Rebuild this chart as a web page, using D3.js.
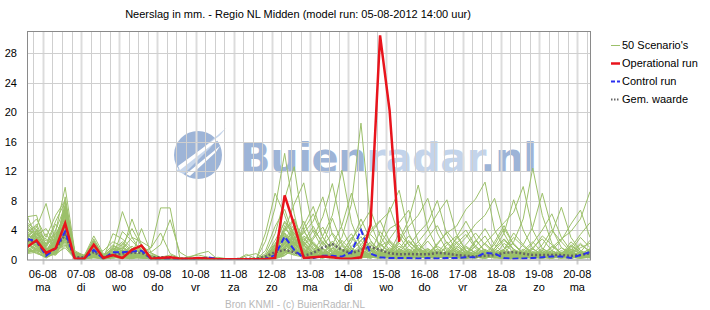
<!DOCTYPE html>
<html>
<head>
<meta charset="utf-8">
<script src="https://cdn.jsdelivr.net/npm/d3@7/dist/d3.min.js"></script>
<style>
body { margin: 0; background: #fff; }
svg { display: block; font-family: Arial, "Liberation Sans", sans-serif; }
</style>
</head>
<body>
<div id="chart"></div>
<script>
// forecast steps: every 6 hours from 06-08 02:00
var startTime = Date.UTC(2012, 7, 6, 2);
var stepHours = 6;

var dayLabels = ["06-08", "07-08", "08-08", "09-08", "10-08", "11-08", "12-08", "13-08",
	"14-08", "15-08", "16-08", "17-08", "18-08", "19-08", "20-08"];
var weekdayLabels = ["ma", "di", "wo", "do", "vr", "za", "zo", "ma", "di", "wo", "do", "vr", "za", "zo", "ma"];
var yTicks = [0, 4, 8, 12, 16, 20, 24, 28];
var legendLabels = ["50 Scenario's", "Operational run", "Control run", "Gem. waarde"];

var operational = [1.7, 2.6, 0.9, 1.5, 4.9, 0.1, 0.1, 2.0, 0.2, 0.6,
	0.2, 1.3, 1.9, 0.1, 0.2, 0.3, 0.1, 0.1, 0.2, 0.1,
	0.05, 0.05, 0.05, 0.05, 0.05, 0.05, 0.2, 8.7, 4.7, 0.2,
	0.3, 0.4, 0.3, 0.1, 0.1, 0.3, 4.7, 30.4, 20.2, 2.4];

var control = [2.8, 2.5, 0.5, 1.5, 3.8, 0.1, 0.1, 1.3, 0.1, 1.0,
	1.0, 1.1, 1.2, 0.1, 0.1, 0.1, 0.05, 0.1, 0.1, 0.3,
	0.05, 0.05, 0.05, 0.05, 0.05, 0.1, 0.6, 3.1, 1.3, 0.2,
	0.2, 0.5, 0.5, 0.4, 1.0, 4.0, 0.8, 0.3, 0.2, 0.2,
	0.2, 0.15, 0.2, 0.15, 0.2, 0.2, 0.3, 0.3, 0.9, 0.8,
	0.2, 0.1, 0.15, 0.2, 0.3, 0.4, 0.4, 0.2, 0.6, 1.0];

var meanValues = [2.6, 2.4, 0.8, 1.5, 3.4, 0.3, 0.3, 1.0, 0.3, 0.6,
	0.8, 0.9, 0.9, 0.3, 0.3, 0.3, 0.1, 0.1, 0.1, 0.2,
	0.05, 0.05, 0.05, 0.1, 0.1, 0.4, 1.0, 1.3, 1.0, 0.5,
	0.9, 1.6, 2.1, 1.3, 0.85, 1.3, 1.7, 1.3, 0.85, 0.7,
	0.75, 0.7, 0.7, 0.9, 0.8, 0.6, 0.5, 0.4, 0.5, 0.6,
	0.9, 1.0, 0.8, 0.6, 0.6, 0.6, 0.6, 0.5, 0.6, 0.85];

// 50 ensemble members, 60 steps each (groups of 10 split by |)
var scenarioRows = [
"2.0 3.1 0.6 1.8 4.2 0.3 0.1 1.2 0.2 0.8 | 1.0 0.9 1.4 0.2 0.1 0 0 0 0 0.2 | 0 0 0 0 0 0.4 1.8 3.2 2.1 0.6 | 0.3 0.5 1.2 0.8 0.4 1.5 2.2 0.9 0.4 0.2 | 0.1 0.3 0.8 1.4 0.6 0.2 0.1 0.4 1.2 0.8 | 0.3 0.2 0.6 1.1 0.5 0.2 0.4 0.9 0.6 1.2",
"3.5 2.2 1.0 2.6 6.8 0.5 0.2 0.8 0.1 0.4 | 0.5 0.8 0.6 0.3 0 0 0 0 0 0 | 0 0 0 0 0 1.2 4.5 6.8 3.0 1.2 | 0.6 2.4 1.0 0.5 1.8 3.1 1.2 0.5 0.2 0.1 | 0.4 1.1 2.5 0.9 0.3 0.2 0.6 1.8 3.2 1.0 | 0.2 0.1 0.3 0.6 1.5 0.8 0.3 0.2 0.5 0.9",
"1.2 4.1 2.5 3.5 5.5 0.2 0 1.6 0.3 0.6 | 0.8 0.4 1.1 0.5 0.2 0 0 0 0 0 | 0 0 0 0.7 0.1 0.3 2.0 4.1 5.5 2.3 | 1.0 0.4 0.6 2.0 3.5 1.2 0.6 2.3 7.1 3.2 | 1.1 0.5 0.3 0.6 1.0 2.4 1.2 0.4 0.2 0.6 | 1.4 2.2 0.8 0.3 0.2 0.5 1.6 0.9 0.3 0.4",
"4.5 3.0 0.4 1.2 3.8 0.1 0.1 0.5 0 0.3 | 0.6 1.5 0.9 0.2 0 0 0 0 0 0 | 0 0 0 0 0 2.5 7.0 14.4 6.2 1.0 | 0.4 0.2 1.5 0.6 0.3 0.8 1.4 0.6 0.2 0.9 | 2.6 1.2 0.4 0.2 0.8 1.5 0.6 0.3 0.2 0.4 | 0.8 0.3 0.2 0.6 1.0 0.4 0.2 0.8 2.0 1.1",
"2.8 1.6 0.9 2.0 7.5 0.6 0.3 2.4 0.5 1.2 | 0.3 0.2 0.4 0.1 0 0 0 0 0 0 | 0 0 0 0 0 0 0.8 2.4 1.6 0.5 | 0.2 0.9 0.4 1.8 0.6 0.3 0.8 0.4 0.6 1.4 | 0.9 0.4 0.2 0.8 1.6 0.6 0.3 0.9 2.2 1.0 | 0.8 2.4 5.5 12.4 6.0 2.2 0.8 0.4 0.3 0.6",
"1.5 2.4 1.8 4.8 3.2 0.4 0.2 0.6 0.2 3.5 | 2.8 1.5 0.9 1.6 7.0 7.0 0.3 0 0 0 | 0 0 0 0 0 0.2 0.5 1.2 2.8 1.0 | 0.5 0.3 0.8 2.6 1.2 0.4 0.2 0.6 1.0 0.4 | 0.3 0.8 1.5 0.6 0.2 0.5 1.8 0.9 0.4 0.2 | 0.1 0.4 0.9 0.5 0.3 0.2 0.6 1.4 0.8 0.5",
"0.9 1.3 0.5 2.2 4.0 0.3 0.2 1.0 0.4 1.1 | 1.6 0.6 0.3 0.2 0 0 0 0 0 0 | 0 0 0 0 0 0.6 2.2 3.6 1.4 0.8 | 2.4 1.0 0.5 0.3 0.8 2.0 3.6 5.2 6.5 9.4 | 3.5 1.2 0.6 0.4 0.3 0.8 1.6 0.9 0.5 0.3 | 0.6 1.2 0.5 0.2 0.4 0.9 0.5 0.3 0.6 1.0",
"5.8 6.0 1.5 1.0 8.5 1.0 0.4 0.8 0.3 0.5 | 0.4 0.3 0.6 0.2 0.1 0 0 0 0 0 | 0 0 0 0 0 0.1 0.4 1.6 3.8 2.4 | 1.2 0.6 0.4 1.0 0.5 0.3 0.6 1.8 2.6 1.4 | 0.6 0.3 0.9 2.0 3.8 2.2 0.8 0.4 0.3 1.2 | 2.6 1.4 0.6 0.3 0.2 0.8 0.4 0.2 0.3 0.8",
"2.2 2.8 0.3 1.5 5.0 0.2 0.1 2.0 0.6 0.2 | 0.3 0.5 2.0 0.8 0.2 0 0 0 0 0 | 0 0 0 0 0 0.8 3.5 8.2 12.6 4.0 | 1.6 0.8 2.5 1.2 0.4 0.2 0.5 0.9 0.4 0.2 | 0.6 1.4 0.8 0.3 0.2 0.4 0.8 2.6 1.2 0.5 | 0.3 0.6 1.2 2.4 0.9 0.4 0.2 0.3 0.6 0.4",
"3.2 1.9 0.7 2.8 6.2 0.4 0.2 0.4 0.1 0.6 | 3.8 2.5 1.2 0.4 0 0 0 0 0 0 | 0 0 0 0 0 0 0.3 1.0 2.2 3.6 | 5.2 8.5 3.4 1.2 0.6 0.4 0.8 0.5 1.6 0.8 | 0.4 0.2 0.6 1.0 0.5 2.2 3.4 1.5 0.6 0.3 | 0.5 0.9 0.4 0.2 0.6 1.8 0.8 0.4 0.2 0.3",
"1.8 3.6 0.5 0.8 2.6 0.2 0.1 0.9 0.2 0.7 | 0.9 1.8 0.8 0.1 0 0 0 0.3 0.8 1.1 | 0 0 0 0 0 0.3 1.4 2.8 1.0 0.4 | 0.8 1.5 0.6 0.3 1.2 0.5 0.3 0.6 1.4 0.7 | 0.5 1.0 0.4 2.2 3.6 4.5 6.8 8.2 10.5 4.0 | 1.6 0.6 0.3 0.2 0.5 1.2 0.6 0.3 0.2 0.4",
"2.5 2.0 1.2 3.2 5.8 0.6 0.4 1.4 0.3 0.9 | 0.7 0.5 0.3 0.2 0 0 0 0 0 0 | 0 0 0 0 0 0.2 0.9 2.0 1.2 0.6 | 0.4 0.8 1.4 3.0 7.5 18.5 5.0 1.6 0.6 0.3 | 0.8 0.4 0.2 0.6 1.0 0.5 0.3 0.8 1.4 0.6 | 0.3 0.6 1.0 0.5 0.3 0.2 0.5 0.8 1.6 2.2",
"4.0 3.4 2.8 1.6 4.8 0.3 0.2 0.5 0.2 1.8 | 1.4 3.0 2.4 1.6 3.6 0.8 0.2 0 0 0 | 0 0 0 0 0 0 0.2 0.8 2.6 5.2 | 2.0 0.6 0.3 0.8 1.6 0.6 0.3 0.4 0.9 1.8 | 1.0 0.4 0.2 0.3 0.8 1.5 0.6 0.3 0.2 0.5 | 1.0 0.5 0.8 1.6 2.8 1.2 0.4 0.2 0.4 0.6",
"1.0 1.4 0.4 1.0 2.2 0.1 0 0.7 0.1 0.3 | 0.2 0.3 0.5 0.2 0 0 0 0 0 0 | 0 0 0 0 0 0.4 1.0 4.6 2.4 0.8 | 0.5 0.3 0.6 1.4 0.8 0.4 2.0 1.1 0.5 0.3 | 0.2 0.6 1.2 0.8 0.4 0.3 0.5 0.9 0.6 1.5 | 2.8 1.4 0.6 0.3 1.2 3.5 7.1 3.0 1.2 0.5",
"3.0 4.4 7.6 2.4 6.0 0.5 0.3 1.8 0.4 0.5 | 0.6 0.4 0.8 0.3 0.1 0 0 0 0 0 | 0 0 0 0 0 0.5 2.6 5.0 3.2 1.4 | 0.6 0.3 0.9 0.5 1.2 2.6 1.0 2.0 4.2 5.0 | 6.7 2.4 0.8 0.4 0.3 0.6 1.0 0.5 0.3 0.8 | 0.4 0.2 0.5 0.9 0.6 0.3 0.2 0.6 1.0 0.7",
"2.6 1.2 0.8 3.8 9.8 1.2 0.5 1.1 0.2 0.4 | 0.5 0.2 0.4 0.1 0 0 0 0 0 0 | 0 0 0 0 0 0.2 1.6 4.0 7.5 10.4 | 3.8 1.4 0.6 0.3 0.5 1.0 0.4 0.2 0.6 1.2 | 0.5 0.3 1.0 0.6 0.4 0.2 0.8 1.8 0.8 0.3 | 0.2 0.5 1.0 0.6 0.3 0.2 0.4 0.6 0.3 0.5",
"1.6 2.6 0.2 0.9 3.0 0.2 0.1 0.3 0.1 0.2 | 0.4 0.6 0.3 0.1 0 0 0 0 0 0 | 0 0 0 0 0 0 0.4 1.2 0.6 2.4 | 4.5 2.0 5.6 2.2 0.8 0.4 0.3 0.9 2.4 1.0 | 0.4 0.2 0.5 0.3 2.0 3.2 1.2 0.5 0.3 0.6 | 1.4 3.6 2.0 0.8 0.4 0.3 0.6 1.2 3.0 1.6",
"3.8 2.6 1.4 1.9 6.6 0.4 0.3 1.5 0.5 1.4 | 0.9 1.1 0.6 0.3 0 0 0 0 0 0 | 0 0 0 0 0 0.1 0.6 2.2 4.4 2.0 | 3.0 5.8 10.3 4.2 1.5 0.6 0.3 0.2 0.5 0.9 | 0.4 2.0 1.0 0.5 0.3 0.6 0.4 0.2 0.5 1.2 | 0.6 0.3 0.2 0.4 0.9 0.5 0.3 2.0 1.0 0.4",
"0.8 1.0 0.3 0.8 1.6 0.1 0 0.4 0 0.8 | 1.2 5.5 2.0 0.4 0 0 0 0 0 0 | 0 0 0 0 0 0 0.2 0.6 1.4 0.5 | 0.2 0.4 0.8 0.3 0.2 0.6 0.3 0.2 0.4 0.3 | 0.2 0.5 0.3 0.2 0.4 0.8 0.4 0.3 0.2 0.4 | 0.3 0.2 0.4 0.6 0.3 0.2 0.3 0.5 0.4 0.3",
"2.4 3.3 4.2 2.0 7.0 0.8 0.4 0.6 0.2 0.5 | 1.2 0.7 0.4 0.2 0 0 0 0 0 0 | 0 0 0 0 0 0.3 1.2 3.0 1.8 0.7 | 0.3 0.6 0.4 0.2 0.8 1.6 3.4 2.0 1.0 2.6 | 5.4 10.1 4.2 1.5 0.6 0.3 0.2 0.5 1.0 0.6 | 0.3 0.2 0.6 1.4 0.7 0.4 0.2 0.3 0.8 1.4",
"2.0 1.5 0.6 1.4 3.4 0.3 0.2 0.9 1.2 2.4 | 1.8 0.8 0.5 1.0 2.0 5.4 1.0 0.2 0 0 | 0 0 0 0 0 0.1 0.3 1.8 3.0 1.2 | 0.4 0.2 0.5 0.9 0.4 0.3 0.8 0.4 0.3 0.6 | 1.2 0.5 0.3 0.8 0.4 0.2 0.6 1.2 0.6 0.3 | 0.5 0.8 0.4 0.2 0.3 0.6 1.0 0.5 0.2 0.3",
"6.0 2.8 1.0 0.6 2.8 0.4 0.2 1.3 0.3 0.6 | 0.3 0.2 0.5 0.4 0.1 0 0 0 0 0 | 0 0 0 0 0 0.2 0.8 2.6 4.8 1.6 | 0.6 1.2 0.5 0.3 0.6 1.0 0.5 0.3 0.8 0.5 | 0.3 0.6 1.4 0.8 0.4 1.6 3.0 4.8 6.0 8.3 | 3.5 1.2 0.6 0.3 0.2 0.6 0.9 0.5 0.3 0.6",
"1.4 0.8 0.4 2.6 5.2 0.2 0.1 0.8 0.2 0.9 | 2.2 0.9 0.4 0.2 0 0 0 0 0 0 | 0 0 0 0 0 3.6 9.0 6.0 2.4 0.8 | 0.4 0.9 2.2 1.0 0.4 0.3 0.5 1.2 0.6 0.3 | 0.6 0.3 0.2 0.9 2.4 1.0 0.4 0.3 0.6 0.4 | 0.2 0.4 0.8 0.5 0.3 0.6 1.2 0.8 0.4 0.3",
"3.4 4.8 2.0 5.2 7.8 0.9 0.5 3.2 0.8 0.4 | 0.3 0.2 0.6 0.3 0 0 0 0 0 0 | 0 0 0 0 0 0.1 0.2 0.9 2.0 4.0 | 6.2 3.0 1.2 0.6 0.3 0.5 0.9 3.8 2.0 0.8 | 0.4 0.3 0.6 1.2 0.6 0.3 0.2 0.4 0.9 2.0 | 4.2 2.0 0.8 0.4 0.2 0.3 0.5 0.9 0.4 0.2",
"1.1 1.8 0.5 1.2 2.4 0.2 0.1 0.6 0.1 0.3 | 0.5 0.3 0.2 0.1 0 0 0 0 0 0 | 0 0 0 0 0 0.4 1.8 3.4 1.2 0.6 | 1.0 0.5 0.3 0.6 1.4 0.8 0.4 0.3 0.5 2.2 | 1.0 0.5 0.3 0.6 1.0 0.5 0.3 0.6 0.4 0.2 | 0.5 1.0 0.6 0.3 0.4 1.2 2.6 4.8 6.7 3.0",
"2.2 2.0 0.9 2.4 4.5 0.5 0.3 1.0 0.4 0.8 | 0.6 0.4 0.3 0.2 0 0 0 0 0 0 | 0 0 0 0 0 0.2 0.7 2.0 4.2 2.0 | 1.0 3.2 6.0 12.1 5.0 1.8 0.8 0.5 0.3 0.6 | 1.4 0.6 0.3 0.2 0.5 1.0 0.6 0.3 0.2 0.4 | 0.8 0.5 0.3 0.6 1.2 0.6 0.3 0.2 0.5 0.9",
"4.2 5.5 3.0 6.0 8.0 1.0 0.6 2.6 0.4 1.6 | 1.2 0.6 0.4 0.2 0 0 0 0 0 0 | 0.3 0.1 0 0.5 0.8 0 0.3 1.4 3.6 2.0 | 0.8 0.4 0.3 0.6 1.0 0.4 0.2 0.6 2.8 4.6 | 2.0 0.8 0.4 0.3 0.8 1.8 1.0 0.4 0.3 0.6 | 1.2 0.6 0.3 0.8 2.0 4.0 2.4 1.0 0.5 0.3",
"1.9 3.8 1.2 0.8 3.6 0.3 0.1 1.9 0.3 0.6 | 0.4 0.3 0.8 0.4 0.1 0 0 0 0 0 | 0 0 0 0 0 0.5 1.2 3.8 5.4 2.0 | 0.6 0.3 0.4 0.9 0.5 0.3 0.6 1.4 0.8 2.4 | 4.5 6.0 8.3 3.6 1.2 0.5 0.3 0.6 1.0 0.5 | 0.3 0.2 0.5 0.9 0.5 0.3 0.6 0.4 0.2 0.3",
"2.7 2.4 0.6 1.7 5.6 0.4 0.2 0.5 0.1 0.3 | 0.2 0.4 0.2 0.1 0 0 0 0 0 0 | 0 0 0 0 0 0 0.1 0.5 1.8 3.2 | 2.2 0.9 0.5 0.3 2.4 5.5 2.6 1.0 0.4 0.3 | 0.6 0.4 0.2 0.5 0.9 0.4 0.2 0.3 0.6 1.4 | 0.8 0.3 0.2 0.4 0.7 0.4 0.3 1.0 2.2 1.0",
"3.6 2.2 0.8 2.2 6.4 0.6 0.3 1.2 0.6 2.0 | 1.1 0.5 0.3 0.2 0 0 0 0 0 0 | 0 0 0 0 0 0.2 0.6 1.6 3.0 1.4 | 0.5 0.3 0.6 1.2 0.6 0.3 0.4 0.8 0.4 0.3 | 0.8 1.6 0.8 0.4 0.3 0.6 1.2 0.6 0.4 1.5 | 3.6 8.1 4.0 1.5 0.6 0.3 0.5 0.9 0.5 0.3",
"1.3 1.1 0.3 1.1 2.0 0.1 0.1 0.2 0.1 0.4 | 0.3 0.2 0.4 0.2 0 0 0 0 0 0 | 0 0 0 0 0 0.3 1.0 2.6 1.2 0.5 | 0.3 0.8 2.0 4.6 9.0 4.2 1.4 0.6 0.3 0.5 | 0.9 0.5 0.3 0.2 0.6 1.2 0.5 0.3 0.8 0.4 | 0.2 0.5 1.2 0.6 0.3 0.2 0.4 0.8 0.5 1.2",
"2.9 1.7 0.5 1.6 4.0 0.3 0.2 1.4 0.4 1.0 | 0.8 0.6 1.6 0.5 0.1 0 0 0 0 0 | 0 0 0 0 0 0.3 1.5 3.0 2.0 0.9 | 0.5 0.3 0.8 0.4 0.2 0.6 1.2 0.5 0.3 0.4 | 0.8 1.4 0.6 0.3 0.2 0.5 0.9 0.4 0.3 0.6 | 1.2 0.5 0.3 0.2 0.6 1.6 2.8 3.8 5.5 9.2",
"5.0 4.0 1.6 4.0 7.2 0.7 0.4 2.8 0.5 0.7 | 0.6 0.5 1.0 0.6 0.2 0 0 0 0 0 | 0 0 0 0 0 0.4 2.0 5.2 3.6 1.8 | 4.0 2.4 0.8 0.4 0.3 0.6 1.6 0.8 0.5 1.0 | 2.4 1.2 0.5 0.3 0.6 3.0 5.2 2.8 1.0 0.4 | 0.3 0.6 1.4 0.8 0.4 0.3 0.6 1.4 0.9 0.5",
"1.7 0.9 0.2 1.3 3.2 0.2 0.1 0.5 0.1 0.2 | 0.4 0.3 0.2 0.1 0 0 0 0 0 0 | 0 0 0 0 0 0.1 0.5 1.6 2.4 1.0 | 0.4 0.2 0.5 1.0 2.8 4.5 6.7 3.2 1.2 0.6 | 0.3 0.2 0.5 0.9 0.4 0.3 0.2 0.5 1.2 0.6 | 0.4 0.2 0.3 0.6 1.0 0.5 0.3 0.2 0.4 0.8",
"3.1 3.2 0.8 3.0 6.5 0.5 0.2 1.7 0.2 0.5 | 2.0 4.2 1.8 0.4 0 0 0 0 0 0 | 0 0 0 0 0 0.2 0.9 2.4 1.6 4.6 | 7.2 3.0 1.0 0.5 0.3 0.6 0.4 0.3 0.9 3.6 | 2.0 0.6 0.3 0.5 1.0 0.6 0.3 0.2 0.5 1.0 | 0.6 0.3 0.6 1.4 3.2 2.0 0.8 0.4 0.3 0.6",
"2.3 2.6 0.4 0.9 2.9 0.3 0.1 0.7 0.2 0.4 | 0.3 0.2 0.4 0.1 0 0 0 0 0 0 | 0 0 0 0 0 0.2 0.6 1.8 2.6 1.1 | 0.5 0.3 0.2 0.6 1.2 0.5 0.3 0.6 1.0 0.5 | 0.3 0.6 1.2 0.6 0.3 0.2 0.5 1.0 2.2 3.6 | 5.0 6.4 9.9 4.0 1.5 0.6 0.3 0.5 0.9 0.4",
"0.9 1.5 0.6 1.9 4.4 0.4 0.2 1.1 0.3 0.9 | 1.6 0.9 0.5 0.3 0 0 0 0 0 0 | 0 0 0 0 0 0.1 0.4 1.4 3.4 1.8 | 0.8 0.4 0.3 0.5 0.9 0.4 0.2 0.5 1.2 0.6 | 1.8 3.6 5.0 8.0 3.4 1.2 0.5 0.3 0.6 1.0 | 0.5 0.3 0.2 0.4 0.8 0.4 0.2 0.3 0.6 0.4",
"4.8 3.5 2.2 2.8 5.0 0.6 0.3 0.9 0.2 0.3 | 0.2 0.6 4.2 0.9 0.3 0.6 0.2 0 0 0 | 0 0 0 0 0 0.3 1.0 2.2 1.0 3.0 | 1.4 0.6 0.3 0.2 0.6 1.0 0.5 0.3 0.6 1.4 | 3.2 1.6 0.6 0.3 0.2 0.4 0.8 0.5 0.3 2.4 | 4.6 2.0 0.8 0.4 0.6 1.0 0.5 0.3 0.2 0.6",
"2.5 1.8 0.7 2.0 4.9 0.4 0.2 1.3 0.3 0.7 | 0.9 0.7 0.5 0.2 0 0 0 0 0 0 | 0 0 0 0 0 0.5 1.4 3.2 2.2 0.9 | 0.6 1.4 0.6 0.3 0.5 1.0 0.4 0.3 0.6 0.4 | 0.3 0.5 0.9 0.4 0.3 0.2 0.5 0.9 0.5 0.8 | 1.2 0.6 2.0 4.4 9.0 4.2 1.6 0.6 0.3 0.5",
"1.5 2.9 1.4 2.3 3.9 0.3 0.1 0.3 0.1 0.6 | 1.0 0.4 0.2 0.1 0 0 0 0 0 0 | 0 0 0 0 0 0 0.2 0.8 1.6 0.6 | 2.8 4.4 1.8 0.6 0.3 0.2 0.5 0.9 0.4 0.2 | 0.4 0.8 0.4 0.2 1.2 2.8 4.0 1.8 0.6 0.3 | 0.2 0.4 0.8 0.4 0.2 0.3 0.6 1.6 3.4 5.0",
"3.3 2.5 1.1 1.4 3.5 0.3 0.2 1.6 0.4 1.3 | 2.4 1.2 0.6 0.3 0.1 0 0 0 0 0 | 0 0 0 0 0 0.2 0.8 2.2 1.4 0.6 | 0.3 0.5 0.8 0.4 1.2 2.6 4.0 5.3 2.4 0.9 | 0.4 0.3 0.6 1.0 0.5 0.3 0.2 0.6 0.4 0.3 | 0.6 1.0 0.5 0.3 0.2 0.5 0.9 0.4 0.6 1.5",
"2.1 2.3 0.3 1.1 2.7 0.2 0.1 0.6 0.2 0.5 | 0.7 0.5 0.9 0.3 0 0 0 0 0 0 | 0 0 0 0 0 0.4 1.6 4.2 2.8 1.2 | 0.6 0.3 0.2 0.5 0.9 0.6 0.3 0.2 0.6 1.0 | 0.5 0.3 0.8 1.8 1.0 0.5 0.3 0.4 0.8 0.5 | 2.2 1.0 0.5 0.3 0.6 1.2 0.6 2.4 1.2 0.6",
"3.9 4.5 1.3 2.5 5.3 0.5 0.3 2.2 0.6 1.5 | 0.9 0.6 0.4 0.2 0 0 0 0 0 0 | 0 0 0 0 0 0.2 0.6 1.4 2.0 3.8 | 2.0 0.8 0.4 0.3 0.6 1.2 2.4 1.2 0.5 0.3 | 0.6 1.2 3.0 4.6 2.2 0.9 0.4 0.3 0.5 0.9 | 0.5 0.3 0.6 1.0 0.5 0.3 0.8 1.8 1.0 0.5",
"1.0 1.2 0.8 0.6 1.9 0.2 0.1 0.4 0.1 1.5 | 6.5 3.0 1.0 0.2 0 0 0 0 0 0 | 0 0 0 0 0 0.1 0.3 1.0 0.6 0.3 | 0.2 0.5 0.3 0.2 0.4 0.8 0.4 0.2 0.3 0.6 | 0.3 0.2 0.4 0.3 0.6 0.3 0.2 0.4 0.3 0.5 | 0.3 0.2 0.5 0.3 0.2 0.4 0.3 0.2 0.5 0.3",
"2.6 3.0 1.9 3.4 6.0 0.6 0.3 1.0 0.3 0.8 | 1.3 0.8 0.5 0.2 0 0 0 0.4 0.6 0.3 | 0 0 0 0 0 0.3 1.1 3.6 2.2 1.0 | 0.5 0.3 0.6 0.3 0.2 0.5 0.9 0.4 0.3 0.5 | 1.0 2.4 4.0 6.2 8.1 3.5 1.2 0.5 0.3 0.6 | 1.0 0.5 0.3 0.2 0.4 0.8 0.4 0.3 0.6 0.9",
"4.3 2.7 0.5 2.1 4.6 0.4 0.2 2.5 0.5 0.6 | 0.5 0.9 1.3 0.4 0.1 0 0 0 0 0 | 0 0 0 0 0 0 0.2 0.6 1.4 2.8 | 1.4 0.6 0.3 0.8 3.0 1.4 0.6 0.3 0.2 0.6 | 1.4 0.7 0.3 0.2 0.4 0.8 2.0 3.6 2.0 0.8 | 0.4 0.2 0.3 0.6 1.2 0.6 0.3 0.5 1.0 2.6",
"1.2 2.1 3.5 1.3 3.3 0.3 0.2 0.8 0.2 0.4 | 0.6 0.4 0.3 0.1 0 0 0 0 0 0 | 0 0 0 0 0 0.2 0.5 1.2 0.8 0.4 | 0.3 0.6 1.6 0.8 0.4 0.3 0.5 0.3 0.6 1.2 | 0.6 0.3 0.2 0.4 0.8 0.5 0.3 0.2 0.4 0.6 | 1.4 3.0 1.8 0.8 0.4 0.3 0.6 1.0 0.5 0.3",
"2.4 3.9 0.9 2.7 7.0 0.7 0.4 1.9 0.3 0.5 | 0.4 0.3 0.5 0.3 0.1 0 0 0 0 0 | 0 0 0 0 0 0.3 1.3 2.8 1.6 0.7 | 0.4 0.6 0.3 0.2 0.5 1.0 0.5 0.3 0.2 0.4 | 0.6 0.3 0.5 1.0 0.6 0.3 0.2 0.4 0.8 0.5 | 0.6 1.2 0.8 2.2 4.0 6.2 3.0 1.2 0.5 0.3",
"1.9 1.4 0.4 1.5 3.7 0.3 0.1 0.6 0.2 0.3 | 0.2 0.4 0.6 0.2 0 0 0 0 0 0 | 0 0 0 0 0 0.1 0.4 1.0 2.0 0.9 | 0.6 1.8 3.6 2.0 0.8 0.4 0.3 0.6 1.0 0.5 | 0.3 0.2 0.5 0.3 0.6 1.2 0.6 2.4 4.2 2.0 | 0.8 0.4 0.3 0.5 0.9 0.5 0.3 0.2 0.4 0.8",
"3.0 2.0 0.6 1.0 3.1 0.2 0.1 0.5 0.1 0.3 | 0.2 0.1 0.3 0.1 0 0 0 0 0 0 | 0 0 0 0 0 0.3 0.8 2.0 1.0 0.4 | 0.2 0.4 0.6 0.3 0.2 0.4 0.9 2.2 1.0 0.5 | 0.3 0.6 0.3 0.2 0.5 0.3 0.2 0.5 0.9 0.4 | 0.3 0.6 1.0 0.5 0.3 0.2 0.5 0.3 0.2 0.4"
];

var scenarios = scenarioRows.map(function(row) {
	return row.replace(/\|/g, " ").trim().split(/\s+/).map(Number);
});

var W = 710, H = 310;
var plot = { left: 27, top: 31, right: 590, bottom: 259.5 };

var svg = d3.select("#chart")
	.append("svg")
	.attr("width", W)
	.attr("height", H);

var timeAt = function(i) {
	return new Date(startTime + i * stepHours * 3600 * 1000);
};

var x = d3.scaleUtc()
	.domain([timeAt(0), timeAt(59)])
	.range([plot.left, plot.right]);

var y = d3.scaleLinear()
	.domain([0, 31])
	.range([plot.bottom, plot.top]);

// title
svg.append("text")
	.attr("x", 298)
	.attr("y", 18)
	.attr("text-anchor", "middle")
	.attr("font-size", "11px")
	.attr("fill", "#000")
	.text("Neerslag in mm. - Regio NL Midden (model run: 05-08-2012 14:00 uur)");

// watermark logo, sits under the grid
var wm = svg.append("g").attr("class", "watermark");
wm.append("circle")
	.attr("cx", 198).attr("cy", 155).attr("r", 24)
	.attr("fill", "#9db4d7");
wm.append("path")
	.attr("d", "M176,171 L226,128 L210,148 L184,174 Z")
	.attr("fill", "#c6d6ec");
wm.append("path")
	.attr("d", "M178,166 L222,134 L218,140 L180,170 Z")
	.attr("fill", "#fff");
wm.append("path")
	.attr("d", "M186,174 L220,146 L216,152 L190,176 Z")
	.attr("fill", "#fff");

var wmText = wm.append("text")
	.attr("x", 240)
	.attr("y", 172)
	.attr("font-family", "'DejaVu Sans', Verdana, sans-serif")
	.attr("font-weight", "bold")
	.attr("font-size", "40px")
	.attr("textLength", 297)
	.attr("lengthAdjust", "spacing");
wmText.append("tspan").attr("fill", "#9db4d7").text("Buien");
wmText.append("tspan").attr("fill", "#c3d4eb").text("radar");
wmText.append("tspan").attr("fill", "#9db4d7").text(".nl");

// vertical grid, every 6 hours; noon lines wider
var gridTimes = d3.utcHour.every(6).range(timeAt(0), new Date(+timeAt(59) + 1));
svg.append("g")
	.selectAll("line")
	.data(gridTimes)
	.enter()
	.append("line")
	.attr("x1", function(d) { return Math.round(x(d)) + 0.5; })
	.attr("x2", function(d) { return Math.round(x(d)) + 0.5; })
	.attr("y1", plot.top)
	.attr("y2", plot.bottom)
	.attr("stroke", function(d) { return d.getUTCHours() == 12 ? "#dcdcdc" : "#cfcfcf"; })
	.attr("stroke-width", function(d) { return d.getUTCHours() == 12 ? 2 : 1; });

// horizontal grid
svg.append("g")
	.selectAll("line")
	.data(yTicks.slice(1))
	.enter()
	.append("line")
	.attr("x1", plot.left)
	.attr("x2", plot.right)
	.attr("y1", function(d) { return Math.round(y(d)) + 0.5; })
	.attr("y2", function(d) { return Math.round(y(d)) + 0.5; })
	.attr("stroke", "#cfcfcf");

// y axis labels
svg.append("g")
	.selectAll("text")
	.data(yTicks)
	.enter()
	.append("text")
	.attr("x", 17)
	.attr("y", function(d) { return y(d) + 4; })
	.attr("text-anchor", "end")
	.attr("font-size", "11px")
	.attr("fill", "#000")
	.text(function(d) { return d; });

// x axis labels at noon
var dayTimes = dayLabels.map(function(d, i) { return Date.UTC(2012, 7, 6 + i, 12); });
var xl = svg.append("g")
	.selectAll("g")
	.data(dayTimes)
	.enter()
	.append("g");
xl.append("line")
	.attr("x1", function(d) { return Math.round(x(d)) + 0.5; })
	.attr("x2", function(d) { return Math.round(x(d)) + 0.5; })
	.attr("y1", plot.bottom + 1)
	.attr("y2", plot.bottom + 5)
	.attr("stroke", "#cfcfcf")
	.attr("stroke-width", 2);
xl.append("text")
	.attr("x", function(d) { return x(d); })
	.attr("y", 278)
	.attr("text-anchor", "middle")
	.attr("font-size", "11px")
	.text(function(d, i) { return dayLabels[i]; });
xl.append("text")
	.attr("x", function(d) { return x(d); })
	.attr("y", 291)
	.attr("text-anchor", "middle")
	.attr("font-size", "11px")
	.text(function(d, i) { return weekdayLabels[i]; });

// series
svg.append("clipPath")
	.attr("id", "plotclip")
	.append("rect")
	.attr("x", plot.left)
	.attr("y", plot.top)
	.attr("width", plot.right - plot.left)
	.attr("height", plot.bottom - plot.top);

var line = d3.line()
	.x(function(d, i) { return x(timeAt(i)); })
	.y(function(d) { return y(d); });

var series = svg.append("g").attr("clip-path", "url(#plotclip)");

series.selectAll(".scen")
	.data(scenarios)
	.enter()
	.append("path")
	.attr("class", "scen")
	.attr("d", line)
	.attr("fill", "none")
	.attr("stroke", "#9cc06a")
	.attr("stroke-width", 1);

series.append("path")
	.attr("d", line(meanValues))
	.attr("fill", "none")
	.attr("stroke", "#666")
	.attr("stroke-width", 2.5)
	.attr("stroke-dasharray", "2,2");

series.append("path")
	.attr("d", line(control))
	.attr("fill", "none")
	.attr("stroke", "#2a2ff0")
	.attr("stroke-width", 2)
	.attr("stroke-dasharray", "6,3");

series.append("path")
	.attr("d", line(operational))
	.attr("fill", "none")
	.attr("stroke", "#e8141c")
	.attr("stroke-width", 2.5);

// plot frame
svg.append("rect")
	.attr("x", plot.left + 0.5)
	.attr("y", plot.top + 0.5)
	.attr("width", plot.right - plot.left)
	.attr("height", plot.bottom - plot.top)
	.attr("fill", "none")
	.attr("stroke", "#8a8a8a");

// legend
var legendStyles = [
	{ color: "#9cc06a", width: 1, dash: null },
	{ color: "#e8141c", width: 2.5, dash: null },
	{ color: "#2a2ff0", width: 2, dash: "4,2" },
	{ color: "#666", width: 2, dash: "1.5,1.5" }
];
var lg = svg.append("g")
	.selectAll("g")
	.data(legendLabels)
	.enter()
	.append("g")
	.attr("transform", function(d, i) { return "translate(611," + (45 + i * 18) + ")"; });
lg.append("line")
	.attr("x1", 0).attr("x2", 9)
	.attr("y1", 0.5).attr("y2", 0.5)
	.attr("stroke", function(d, i) { return legendStyles[i].color; })
	.attr("stroke-width", function(d, i) { return legendStyles[i].width; })
	.attr("stroke-dasharray", function(d, i) { return legendStyles[i].dash; });
lg.append("text")
	.attr("x", 11)
	.attr("y", 4)
	.attr("font-size", "11px")
	.text(function(d) { return d; });

// footer
svg.append("text")
	.attr("x", 295)
	.attr("y", 308)
	.attr("text-anchor", "middle")
	.attr("font-size", "10px")
	.attr("fill", "#b8b8b8")
	.text("Bron KNMI - (c) BuienRadar.NL");
</script>
</body>
</html>
